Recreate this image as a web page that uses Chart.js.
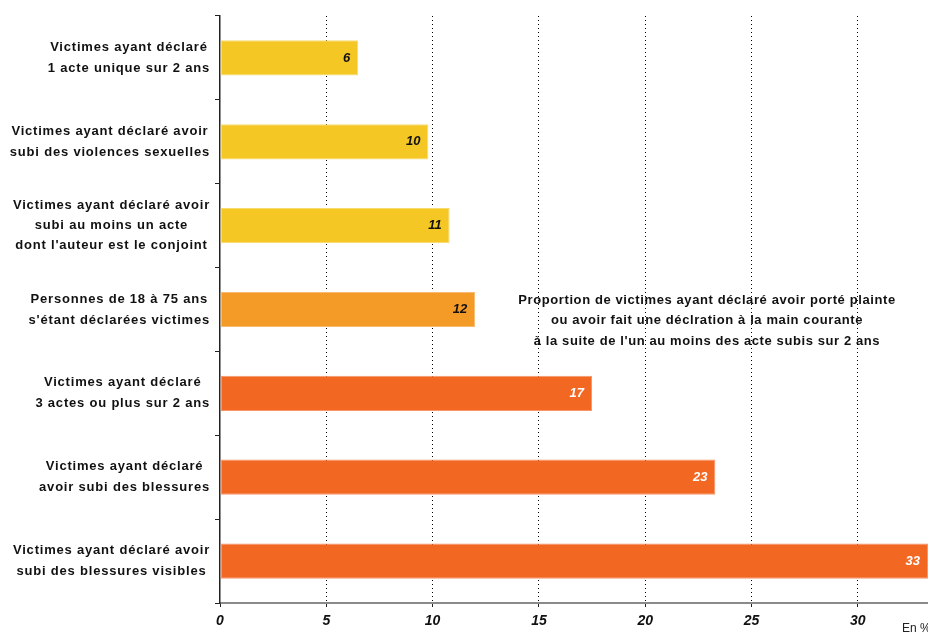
<!DOCTYPE html>
<html>
<head>
<meta charset="utf-8">
<script src="https://cdn.jsdelivr.net/npm/chart.js@4"></script>
<style>
  html, body { margin: 0; padding: 0; background: #fff; }
  #wrap { width: 928px; height: 632px; }
</style>
</head>
<body>
<div id="wrap"><canvas id="chart" width="928" height="632"></canvas></div>
<script>
const categories = [
  ['Victimes ayant déclaré', '1 acte unique sur 2 ans'],
  ['Victimes ayant déclaré avoir', 'subi des violences sexuelles'],
  ['Victimes ayant déclaré avoir', 'subi au moins un acte', "dont l'auteur est le conjoint"],
  ['Personnes de 18 à 75 ans', "s'étant déclarées victimes"],
  ['Victimes ayant déclaré', '3 actes ou plus sur 2 ans'],
  ['Victimes ayant déclaré', 'avoir subi des blessures'],
  ['Victimes ayant déclaré avoir', 'subi des blessures visibles']
];
const values = [6.5, 9.8, 10.8, 12.0, 17.5, 23.3, 33.3];
const valueLabels = ['6', '10', '11', '12', '17', '23', '33'];
const xTicks = [0, 5, 10, 15, 20, 25, 30];
const noteLines = [
  'Proportion de victimes ayant déclaré avoir porté plainte',
  'ou avoir fait une déclration à la main courante',
  "à la suite de l'un au moins des acte subis sur 2 ans"
];
const unitLabel = 'En %';

const barColors = ['#F4C724', '#F4C724', '#F4C724', '#F39B26', '#F26722', '#F26722', '#F26722'];
const barBorders = ['#F8DC70', '#F8DC70', '#F8DC70', '#F7BC72', '#F6956A', '#F6956A', '#F6956A'];
const labelColors = ['#111', '#111', '#111', '#111', '#fff', '#fff', '#fff'];

const FONT = '"Liberation Sans", Arial, sans-serif';

// y category labels: each block centred, blocks right aligned against the axis
const yLabelsPlugin = {
  id: 'yLabels',
  afterDraw(chart) {
    const ctx = chart.ctx;
    const yScale = chart.scales.y;
    ctx.save();
    ctx.font = 'bold 13px ' + FONT;
    ctx.letterSpacing = '0.8px';
    ctx.fillStyle = '#111';
    ctx.textAlign = 'center';
    ctx.textBaseline = 'middle';
    categories.forEach((lines, i) => {
      const cy = yScale.getPixelForValue(i);
      const maxW = Math.max(...lines.map(l => ctx.measureText(l).width));
      const cx = 210 - maxW / 2;
      const lh = lines.length > 2 ? 20 : 21;
      const y0 = cy - (lines.length - 1) * lh / 2;
      lines.forEach((l, j) => ctx.fillText(l, cx, y0 + j * lh));
    });
    ctx.restore();
  }
};

// value inside the bar end, note text and unit
const extrasPlugin = {
  id: 'extras',
  afterDatasetsDraw(chart) {
    const ctx = chart.ctx;
    const meta = chart.getDatasetMeta(0);
    ctx.save();
    ctx.font = 'bold italic 13px ' + FONT;
    ctx.textAlign = 'right';
    ctx.textBaseline = 'middle';
    meta.data.forEach((bar, i) => {
      ctx.fillStyle = labelColors[i];
      ctx.fillText(valueLabels[i], bar.x - 8, bar.y);
    });

    ctx.font = 'bold 13px ' + FONT;
    ctx.letterSpacing = '0.6px';
    ctx.fillStyle = '#111';
    ctx.textAlign = 'center';
    noteLines.forEach((l, j) => ctx.fillText(l, 707, 300 + j * 20.5));

    ctx.letterSpacing = '0px';
    ctx.font = '12px ' + FONT;
    ctx.textAlign = 'left';
    ctx.fillStyle = '#222';
    ctx.fillText(unitLabel, 902, 629);
    ctx.restore();
  }
};

new Chart(document.getElementById('chart'), {
  type: 'bar',
  data: {
    labels: categories,
    datasets: [{
      data: values,
      backgroundColor: barColors,
      borderColor: barBorders,
      borderWidth: 1,
      borderSkipped: false,
      barPercentage: 0.42,
      categoryPercentage: 1
    }]
  },
  options: {
    indexAxis: 'y',
    responsive: false,
    animation: false,
    layout: { padding: { top: 16, right: 0, left: 0, bottom: 0 } },
    plugins: {
      legend: { display: false },
      tooltip: { enabled: false }
    },
    scales: {
      x: {
        min: 0,
        max: 33.3,
        afterBuildTicks: scale => {
          scale.ticks = xTicks.map(v => ({ value: v }));
        },
        afterFit: scale => { scale.height = 29; },
        border: { color: '#8a8a8a', width: 2, dash: [1, 3] },
        grid: {
          color: c => (c.tick && c.tick.value === 0 ? 'rgba(0,0,0,0)' : '#000'),
          lineWidth: 1,
          tickColor: '#222',
          tickBorderDash: [],
          tickLength: 4
        },
        ticks: {
          color: '#111',
          padding: 6,
          maxRotation: 0,
          font: { family: FONT, size: 14, weight: 'bold', style: 'italic' }
        }
      },
      y: {
        afterFit: scale => { scale.width = 220; },
        border: { color: '#222', width: 1.5 },
        grid: {
          offset: true,
          drawOnChartArea: false,
          tickLength: 5,
          tickColor: '#222'
        },
        ticks: { display: false }
      }
    }
  },
  plugins: [yLabelsPlugin, extrasPlugin]
});
</script>
</body>
</html>
